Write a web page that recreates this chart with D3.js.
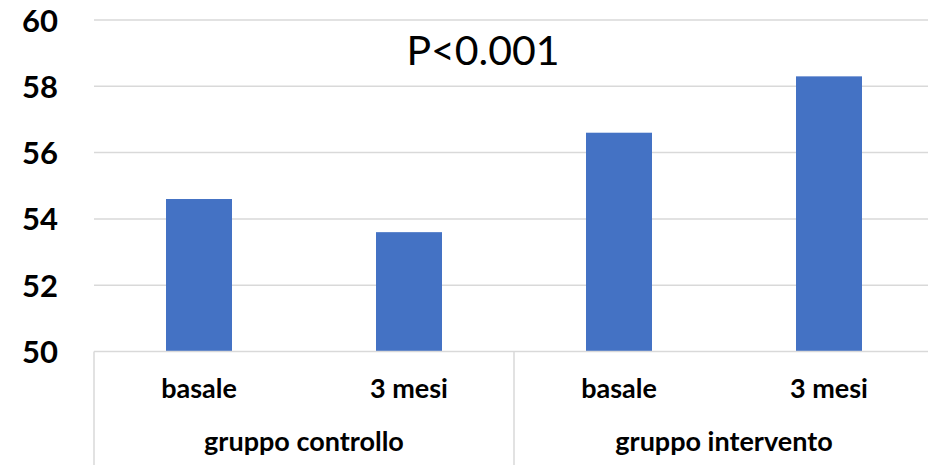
<!DOCTYPE html>
<html>
<head>
<meta charset="utf-8">
<script src="https://cdn.jsdelivr.net/npm/d3@7"></script>
<style>
  html, body { margin: 0; padding: 0; background: #fff; }
  svg { display: block; }
</style>
</head>
<body>
<svg id="chart" width="928" height="465"></svg>
<script>
// Values per category (two time points within each study group)
const groups = ["gruppo controllo", "gruppo intervento"];
const periods = ["basale", "3 mesi", "basale", "3 mesi"];
const values = [54.6, 53.6, 56.6, 58.3];
const yTicks = [50, 52, 54, 56, 58, 60];
const annotation = "P<0.001";

(function () {
  const svg = d3.select("#chart");
  const W = 928, H = 465;
  const plotLeft = 94, plotRight = 934, plotTop = 20, plotBottom = 351.5;

  const keys = periods.map((p, i) => i);
  const x = d3.scaleBand().domain(keys).range([plotLeft, plotRight])
    .paddingInner(0.6857).paddingOuter(0.34285);
  const xGroup = d3.scaleBand().domain(groups).range([plotLeft, plotRight]);
  const y = d3.scaleLinear().domain([50, 60]).range([plotBottom, plotTop]);

  const gridColor = "#d9d9d9";
  const font = "Lato, 'Open Sans', sans-serif";

  // Horizontal gridlines
  svg.append("g").selectAll("line")
    .data(yTicks.filter(t => t !== 50))
    .join("line")
    .attr("x1", plotLeft).attr("x2", W)
    .attr("y1", d => y(d)).attr("y2", d => y(d))
    .attr("stroke", gridColor).attr("stroke-width", 1.5);

  // Y axis labels
  svg.append("g").selectAll("text")
    .data(yTicks)
    .join("text")
    .attr("x", 58)
    .attr("y", d => y(d) + 11.5)
    .attr("text-anchor", "end")
    .attr("font-family", font)
    .attr("font-weight", "bold")
    .attr("font-size", 31)
    .attr("fill", "#000")
    .text(d => d);

  // Bars
  svg.append("g").selectAll("rect")
    .data(values)
    .join("rect")
    .attr("x", (d, i) => x(i))
    .attr("width", x.bandwidth())
    .attr("y", d => y(d))
    .attr("height", d => y(50) - y(d))
    .attr("fill", "#4472c4");

  // Category axis: baseline and group dividers
  svg.append("line")
    .attr("x1", plotLeft).attr("x2", W)
    .attr("y1", plotBottom).attr("y2", plotBottom)
    .attr("stroke", gridColor).attr("stroke-width", 1.5);

  svg.append("g").selectAll("line")
    .data(groups.map(g => xGroup(g)))
    .join("line")
    .attr("x1", d => d).attr("x2", d => d)
    .attr("y1", plotBottom).attr("y2", H)
    .attr("stroke", gridColor).attr("stroke-width", 1.5);

  // Period labels
  svg.append("g").selectAll("text")
    .data(periods)
    .join("text")
    .attr("x", (d, i) => x(i) + x.bandwidth() / 2)
    .attr("y", 398)
    .attr("text-anchor", "middle")
    .attr("font-family", font)
    .attr("font-weight", "bold")
    .attr("font-size", 27)
    .attr("fill", "#000")
    .text(d => d);

  // Group labels
  svg.append("g").selectAll("text")
    .data(groups)
    .join("text")
    .attr("x", d => xGroup(d) + xGroup.bandwidth() / 2)
    .attr("y", 451)
    .attr("text-anchor", "middle")
    .attr("font-family", font)
    .attr("font-weight", "bold")
    .attr("font-size", 27)
    .attr("fill", "#000")
    .text(d => d);

  // Significance annotation
  svg.append("text")
    .attr("x", 483)
    .attr("y", 65)
    .attr("text-anchor", "middle")
    .attr("font-family", font)
    .attr("font-size", 41)
    .attr("fill", "#000")
    .text(annotation);
})();
</script>
</body>
</html>
